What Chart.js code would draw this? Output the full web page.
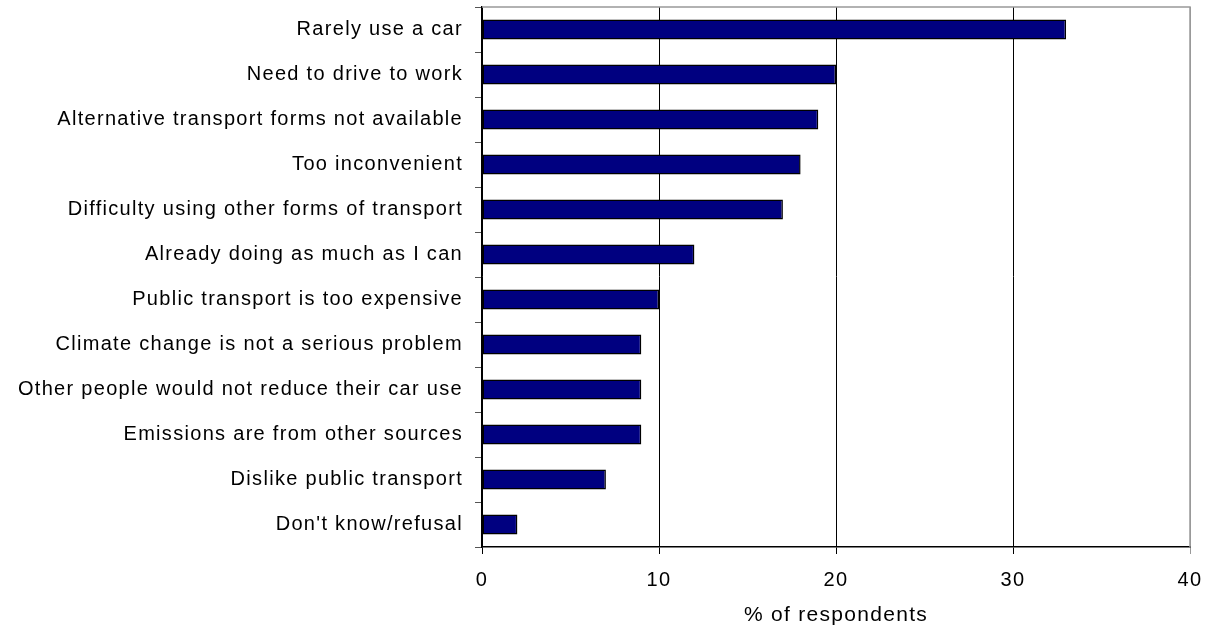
<!DOCTYPE html>
<html lang="en">
<head>
    <meta charset="UTF-8">
    <title>Reasons for not reducing car use</title>
    <script src="https://cdn.jsdelivr.net/npm/chart.js"></script>
    <style>
        body {
            margin: 0;
            padding: 0;
            background-color: #fff;
        }
        .container {
            width: 1220px;
            height: 631px;
        }
    </style>
</head>
<body>
    <div class="container">
        <canvas id="myChart" width="1220" height="631"></canvas>
    </div>

    <script>
        // Chart data
        const categories = [
            'Rarely use a car',
            'Need to drive to work',
            'Alternative transport forms not available',
            'Too inconvenient',
            'Difficulty using other forms of transport',
            'Already doing as much as I can',
            'Public transport is too expensive',
            'Climate change is not a serious problem',
            'Other people would not reduce their car use',
            'Emissions are from other sources',
            'Dislike public transport',
            "Don't know/refusal"
        ];
        const respondents = [33, 20, 19, 18, 17, 12, 10, 9, 9, 9, 7, 2];
        const xTicks = [0, 10, 20, 30, 40];

        const labelFont = { family: 'Liberation Sans, Arial, sans-serif', size: 20 };

        const ctx = document.getElementById('myChart').getContext('2d');
        const myChart = new Chart(ctx, {
            type: 'bar',
            data: {
                labels: categories,
                datasets: [{
                    label: '% of respondents',
                    data: respondents,
                    backgroundColor: '#000080',
                    borderColor: '#000000',
                    borderWidth: 1.5,
                    borderSkipped: false,
                    barPercentage: 0.44,
                    categoryPercentage: 1.0
                }]
            },
            options: {
                indexAxis: 'y',
                responsive: false,
                animation: false,
                layout: {
                    padding: { top: 7, right: 30, bottom: 0, left: 0 }
                },
                plugins: {
                    legend: { display: false },
                    tooltip: { enabled: false }
                },
                scales: {
                    x: {
                        min: 0,
                        max: 40,
                        afterBuildTicks: (scale) => {
                            scale.ticks = xTicks.map(v => ({ value: v }));
                        },
                        afterFit: (scale) => {
                            scale.height = 84;
                            scale.paddingLeft = 0;
                            scale.paddingRight = 0;
                        },
                        ticks: {
                            color: '#000',
                            font: labelFont,
                            padding: 14
                        },
                        grid: {
                            color: (c) => c.tick && c.tick.value === 40 ? '#999999' : '#000000',
                            lineWidth: 1,
                            tickLength: 7
                        },
                        border: { color: '#000', width: 1.5 },
                        title: {
                            display: true,
                            text: '% of respondents',
                            color: '#000',
                            font: { family: 'Liberation Sans, Arial, sans-serif', size: 21 },
                            padding: { top: 4, bottom: 3 }
                        }
                    },
                    y: {
                        afterFit: (scale) => {
                            scale.width = 482;
                            scale.paddingTop = 0;
                            scale.paddingBottom = 0;
                        },
                        ticks: {
                            color: '#000',
                            font: labelFont,
                            padding: 12,
                            autoSkip: false
                        },
                        grid: {
                            offset: true,
                            drawOnChartArea: false,
                            color: '#555',
                            tickLength: 7
                        },
                        border: { color: '#000', width: 1.5 }
                    }
                }
            },
            plugins: [{
                id: 'frame',
                beforeDraw(chart) {
                    // the reference text is slightly wide-set
                    chart.ctx.letterSpacing = '1.3px';
                },
                afterDraw(chart) {
                    const { ctx, chartArea } = chart;
                    ctx.save();
                    ctx.strokeStyle = '#999999';
                    ctx.lineWidth = 1.5;
                    ctx.beginPath();
                    ctx.moveTo(chartArea.left, chartArea.top);
                    ctx.lineTo(chartArea.right, chartArea.top);
                    ctx.lineTo(chartArea.right, chartArea.bottom);
                    ctx.stroke();
                    ctx.restore();
                }
            }]
        });
    </script>
</body>
</html>
